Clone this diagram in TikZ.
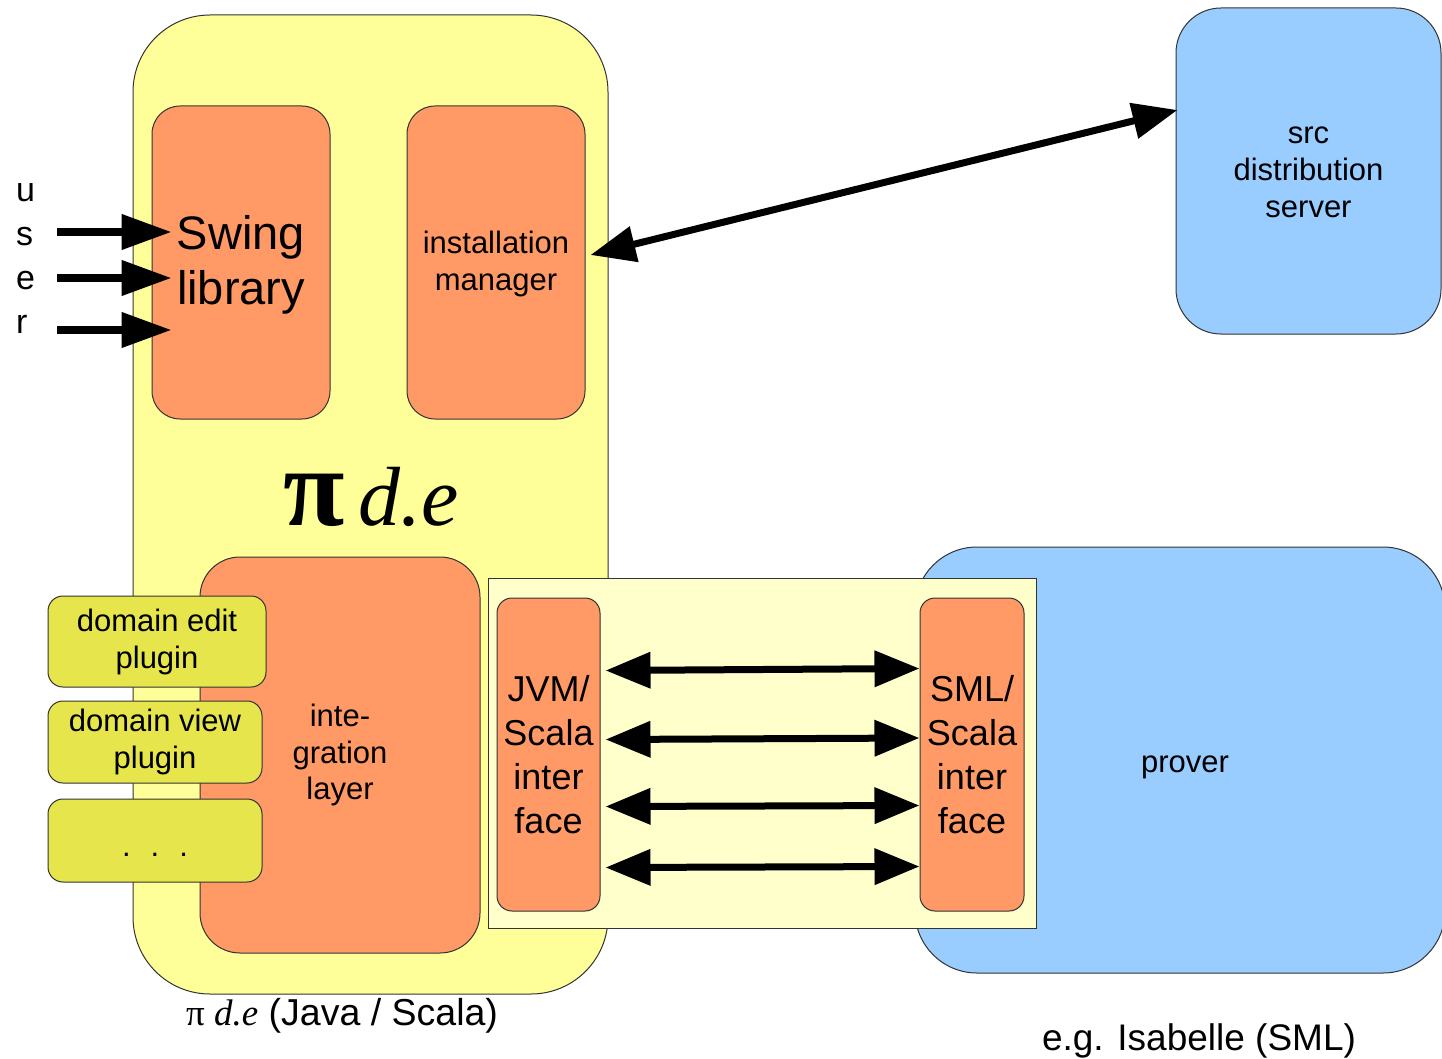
\documentclass[tikz,border=0pt]{standalone}
\usepackage{fontspec}
\setmainfont{Liberation Sans}
\newfontfamily\tms{Liberation Serif}
\usetikzlibrary{arrows.meta}
\definecolor{yel}{HTML}{FFFF99}
\definecolor{org}{HTML}{FF9966}
\definecolor{plg}{HTML}{E6E64C}
\definecolor{pale}{HTML}{FFFFCC}
\definecolor{blu}{HTML}{99CCFF}
\definecolor{edge}{HTML}{333333}
\newcommand\fsz[2]{\fontsize{#1pt}{#2pt}\selectfont}
\newcommand\lowerby[2]{\raisebox{-#1}[\height][\depth]{\begin{tabular}{@{}c@{}}#2\end{tabular}}}
\begin{document}
\begin{tikzpicture}[x=1pt,y=-1pt,
  box/.style={draw=edge, line width=1pt, inner sep=0pt, align=center},
  orangebox/.style={box, fill=org},
  bigarr/.style={line width=7pt, {Triangle[length=45pt,width=35pt]}-{Triangle[length=45pt,width=35pt]}},
  uarr/.style={line width=7.5pt, -{Triangle[length=50pt,width=34pt]}},
  lbl/.style={inner sep=0pt}
]
\clip (0,0) rectangle (1442,1059);
\fill[white] (0,0) rectangle (1442,1059);

% right side boxes
\node[box, fill=blu, rounded corners=45pt, minimum width=265pt, minimum height=326pt, font=\fsz{31}{37}]
  (server) at (1308.5,171) {\lowerby{2pt}{src\\distribution\\server}};
\node[box, fill=blu, rounded corners=62pt, minimum width=530pt, minimum height=426pt, font=\fsz{31}{37}]
  (prover) at (1180,760) {\hspace{10pt}\lowerby{5pt}{prover}};

% main pi d.e box
\node[box, fill=yel, rounded corners=77pt, minimum width=475pt, minimum height=979pt] (pide) at (370.5,504.5) {};
\node[orangebox, rounded corners=28pt, minimum width=178pt, minimum height=313pt, font=\fsz{47}{55}]
  (swing) at (241,262.5) {\lowerby{3pt}{Swing\\library}};
\node[orangebox, rounded corners=28pt, minimum width=178pt, minimum height=313pt, font=\fsz{31}{37}]
  (install) at (496,262.5) {\lowerby{2pt}{installation\\manager}};
\node[lbl, anchor=base, font=\tms\fsz{84}{90}] (pidetitle) at (371,525)
  {{\fsz{112}{112}\textbf{π}}\hspace{14pt}\textit{d.e}};
\node[orangebox, rounded corners=40pt, minimum width=280pt, minimum height=396pt, font=\fsz{31}{36.5}]
  (integ) at (340,755) {\lowerby{1pt}{inte-\\gration\\layer}};

% plugins
\node[box, fill=plg, rounded corners=15pt, minimum width=218pt, minimum height=91pt, font=\fsz{31}{37}]
  (edit) at (157,641.5) {\lowerby{1pt}{domain edit\\plugin}};
\node[box, fill=plg, rounded corners=15pt, minimum width=214pt, minimum height=82pt, font=\fsz{31}{37}]
  (view) at (155,742) {\lowerby{1pt}{domain view\\plugin}};
\node[box, fill=plg, rounded corners=15pt, minimum width=214pt, minimum height=83pt, font=\fsz{31}{37}]
  (dots) at (155,840.5) {\raisebox{-16pt}[0pt][0pt]{.\hspace{20pt}.\hspace{20pt}.}};

% bridge
\node[box, fill=pale, minimum width=548pt, minimum height=350pt] (bridge) at (762,753) {};
\node[orangebox, rounded corners=15pt, minimum width=103pt, minimum height=313pt, font=\fsz{36}{44}]
  (jvm) at (548.5,754.5) {JVM/\\Scala\\inter\\face};
\node[orangebox, rounded corners=15pt, minimum width=104pt, minimum height=313pt, font=\fsz{36}{44}]
  (sml) at (972,754.5) {SML/\\Scala\\inter\\face};

% labels
\node[lbl, anchor=base west, font=\fsz{37.5}{40}] (pidelabel) at (186,1025)
  {{\tms\fsz{37}{40}π \textit{d.e}} (Java / Scala)};
\node[lbl, anchor=base, font=\fsz{37}{40}] (isalabel) at (1199,1050) {e.g. Isabelle (SML)};

% user letters
\node[lbl, anchor=base west, font=\fsz{34}{40}] (lu) at (16,202) {u};
\node[lbl, anchor=base west, font=\fsz{34}{40}] (ls) at (16,246) {s};
\node[lbl, anchor=base west, font=\fsz{34}{40}] (le) at (16,290) {e};
\node[lbl, anchor=base west, font=\fsz{34}{40}] (lr) at (16,333) {r};

% user arrows
\coordinate (ua1) at (57,232);
\coordinate (ua2) at (57,278);
\coordinate (ua3) at (57,330);
\draw[uarr] (ua1) -- ([xshift=20pt,yshift=30.5pt]swing.west);
\draw[uarr] (ua2) -- ([xshift=20pt,yshift=-15.5pt]swing.west);
\draw[uarr] (ua3) -- ([xshift=20pt,yshift=-67.5pt]swing.west);

% installation <-> server
\draw[bigarr] ([xshift=5pt,yshift=7.5pt]install.east) -- ([xshift=2pt,yshift=61pt]server.west);

% interface arrows
\draw[bigarr] ([xshift=5pt,yshift=84pt]jvm.east) -- ([yshift=86pt]sml.west);
\draw[bigarr] ([xshift=5pt,yshift=15pt]jvm.east) -- ([yshift=16.5pt]sml.west);
\draw[bigarr] ([xshift=5pt,yshift=-52pt]jvm.east) -- ([yshift=-51pt]sml.west);
\draw[bigarr] ([xshift=5pt,yshift=-113pt]jvm.east) -- ([yshift=-112pt]sml.west);
\end{tikzpicture}
\end{document}
